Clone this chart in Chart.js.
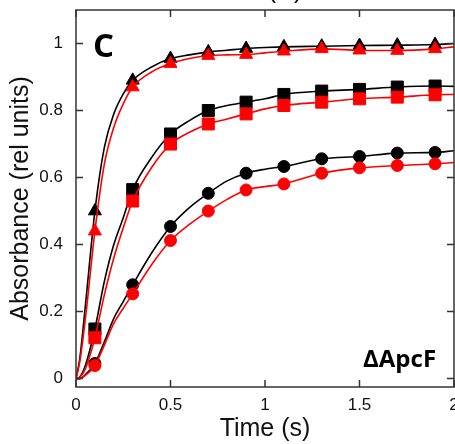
<!DOCTYPE html>
<html>
<head>
<meta charset="utf-8">
<script src="https://cdn.jsdelivr.net/npm/chart.js@4"></script>
<style>
  html, body { margin: 0; padding: 0; background: #fff; }
  #wrap { width: 455px; height: 444px; }
</style>
</head>
<body>
<div id="wrap"><canvas id="myChart"></canvas></div>
<script>
// time axis of the traces (s) and the times where markers sit
const traceTime = [0, 0.02, 0.05, 0.1, 0.15, 0.2, 0.25, 0.3, 0.4, 0.5, 0.6, 0.7, 0.8, 0.9, 1.0, 1.1, 1.3, 1.5, 1.7, 1.9, 2.0];
const markerTime = [0.1, 0.3, 0.5, 0.7, 0.9, 1.1, 1.3, 1.5, 1.7, 1.9];

const blackTri = [0, 0.06, 0.22, 0.50, 0.69, 0.79, 0.85, 0.89, 0.93, 0.955, 0.966, 0.975, 0.98, 0.985, 0.988, 0.99, 0.992, 0.994, 0.995, 0.997, 1.0];
const redTri   = [0, 0.05, 0.18, 0.44, 0.64, 0.75, 0.82, 0.87, 0.915, 0.94, 0.955, 0.964, 0.966, 0.967, 0.972, 0.977, 0.984, 0.98, 0.979, 0.984, 0.99];
const blackSq  = [0, 0.005, 0.04, 0.148, 0.29, 0.40, 0.48, 0.564, 0.66, 0.73, 0.77, 0.80, 0.815, 0.825, 0.835, 0.848, 0.858, 0.863, 0.87, 0.873, 0.872];
const redSq    = [0, 0.004, 0.03, 0.122, 0.25, 0.36, 0.45, 0.53, 0.63, 0.70, 0.735, 0.76, 0.775, 0.79, 0.805, 0.815, 0.825, 0.835, 0.84, 0.847, 0.848];
const blackCir = [0, 0, 0.012, 0.045, 0.11, 0.18, 0.23, 0.28, 0.375, 0.454, 0.51, 0.553, 0.59, 0.613, 0.625, 0.633, 0.656, 0.663, 0.673, 0.675, 0.68];
const redCir   = [0, 0, 0.01, 0.039, 0.10, 0.165, 0.21, 0.253, 0.34, 0.412, 0.46, 0.50, 0.535, 0.563, 0.573, 0.581, 0.613, 0.629, 0.636, 0.641, 0.645];

const xTicks = [0, 0.5, 1, 1.5, 2];
const yTicks = [0, 0.2, 0.4, 0.6, 0.8, 1];

function trace(vals) {
  return traceTime.map((t, i) => ({ x: t, y: vals[i] }));
}
function markers(vals) {
  return traceTime.map((t, i) => ({ x: t, y: vals[i] }))
    .filter(p => markerTime.some(m => Math.abs(m - p.x) < 1e-9));
}

function lineSet(vals, color, order) {
  return {
    data: trace(vals), borderColor: color, backgroundColor: color,
    borderWidth: 1.6, pointRadius: 0, cubicInterpolationMode: 'monotone', order: order
  };
}
function markSet(vals, color, style, radius, order) {
  return {
    data: markers(vals), showLine: false, pointStyle: style, pointRadius: radius,
    borderColor: color, backgroundColor: color, borderWidth: 1, order: order
  };
}

// frame with inward ticks + panel labels
const framePlugin = {
  id: 'frame',
  afterDatasetsDraw(chart) {
    const { ctx, chartArea: a, scales: { x, y } } = chart;
    ctx.save();
    ctx.strokeStyle = '#333';
    ctx.lineWidth = 1.5;
    ctx.strokeRect(a.left, a.top, a.right - a.left, a.bottom - a.top);
    ctx.beginPath();
    const len = 7;
    xTicks.forEach(v => {
      const px = x.getPixelForValue(v);
      ctx.moveTo(px, a.bottom); ctx.lineTo(px, a.bottom - len);
      ctx.moveTo(px, a.top); ctx.lineTo(px, a.top + len);
    });
    yTicks.forEach(v => {
      const py = y.getPixelForValue(v);
      ctx.moveTo(a.left, py); ctx.lineTo(a.left + len, py);
      ctx.moveTo(a.right, py); ctx.lineTo(a.right - len, py);
    });
    ctx.stroke();

    ctx.fillStyle = '#000';
    ctx.textBaseline = 'alphabetic';
    ctx.textAlign = 'left';
    ctx.font = "bold 33px 'Open Sans'";
    ctx.fillText('C', 93, 57);
    ctx.font = "bold 24px 'Open Sans'";
    ctx.fillText('ΔApcF', 363, 367);
    ctx.textAlign = 'center';
    ctx.font = "25px 'Liberation Sans'";
    ctx.fillText('(C)', 285, -2);
    ctx.restore();
  }
};

const ctx = document.getElementById('myChart').getContext('2d');
const chart = new Chart(ctx, {
  type: 'line',
  data: {
    datasets: [
      lineSet(blackTri, '#000', 6), markSet(blackTri, '#000', 'triangle', 7.5, 5),
      lineSet(blackSq, '#000', 6), markSet(blackSq, '#000', 'rect', 8.5, 5),
      lineSet(blackCir, '#000', 6), markSet(blackCir, '#000', 'circle', 6, 5),
      lineSet(redTri, '#ff0000', 4), markSet(redTri, '#ff0000', 'triangle', 7.5, 3),
      lineSet(redSq, '#ff0000', 4), markSet(redSq, '#ff0000', 'rect', 8.5, 3),
      lineSet(redCir, '#ff0000', 4), markSet(redCir, '#ff0000', 'circle', 6, 3)
    ]
  },
  options: {
    responsive: true,
    maintainAspectRatio: false,
    animation: false,
    layout: { autoPadding: false, padding: { top: 10, right: 1, left: 0, bottom: 0 } },
    plugins: { legend: { display: false }, tooltip: { enabled: false } },
    scales: {
      x: {
        type: 'linear', min: 0, max: 2,
        afterBuildTicks: s => { s.ticks = xTicks.map(v => ({ value: v })); },
        afterFit: s => { s.height = 57; s.paddingLeft = 0; s.paddingRight = 0; },
        grid: { display: false, drawTicks: false },
        border: { display: false },
        ticks: { color: '#111', padding: 8, font: { family: "'Liberation Sans'", size: 17 }, maxRotation: 0,
                 callback: v => String(v) },
        title: { display: true, text: 'Time (s)', color: '#111', padding: { top: 0, bottom: 0 },
                 font: { family: "'Liberation Sans'", size: 25 } }
      },
      y: {
        type: 'linear', min: -0.025, max: 1.1,
        afterBuildTicks: s => { s.ticks = yTicks.map(v => ({ value: v })); },
        afterFit: s => { s.width = 76; s.paddingTop = 0; s.paddingBottom = 0; },
        grid: { display: false, drawTicks: false },
        border: { display: false },
        ticks: { color: '#111', padding: 13, font: { family: "'Liberation Sans'", size: 17 },
                 callback: v => String(v) },
        title: { display: true, text: 'Absorbance (rel units)', color: '#111', padding: { top: 6, bottom: 0 },
                 font: { family: "'Liberation Sans'", size: 25 } }
      }
    }
  },
  plugins: [framePlugin]
});
</script>
</body>
</html>
